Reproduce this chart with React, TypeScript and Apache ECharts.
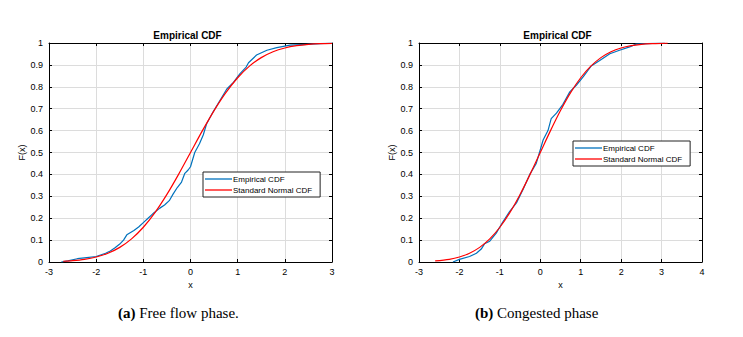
import React, { useEffect, useRef } from "react";
import * as echarts from "echarts";

// Free flow phase (left)
const leftEmpX = [-2.74, -2.6, -2.4, -2.2, -2.0, -1.8, -1.7, -1.6, -1.5, -1.42, -1.35, -1.2, -1.1, -1.0, -0.9, -0.8, -0.65, -0.55, -0.45, -0.37, -0.28, -0.19, -0.12, -0.05, 0.0, 0.09, 0.19, 0.27, 0.34, 0.48, 0.63, 0.77, 0.91, 1.05, 1.18, 1.23, 1.4, 1.62, 1.83, 2.11, 2.47, 2.75, 3.0];
const leftEmpY = [0.0, 0.005, 0.015, 0.02, 0.025, 0.04, 0.05, 0.065, 0.082, 0.1, 0.124, 0.144, 0.16, 0.18, 0.2, 0.22, 0.246, 0.26, 0.28, 0.31, 0.34, 0.365, 0.405, 0.42, 0.435, 0.5, 0.54, 0.58, 0.63, 0.686, 0.74, 0.79, 0.82, 0.86, 0.89, 0.91, 0.945, 0.967, 0.979, 0.99, 0.994, 0.997, 1.0];
const leftNormX = [-2.7, -2.5, -2.25, -2.0, -1.75, -1.5, -1.25, -1.0, -0.75, -0.5, -0.25, 0.0, 0.25, 0.5, 0.75, 1.0, 1.25, 1.5, 1.75, 2.0, 2.25, 2.5, 2.75, 3.0];
const leftNormY = [0.0035, 0.0062, 0.0122, 0.0228, 0.0401, 0.0668, 0.1056, 0.1587, 0.2266, 0.3085, 0.4013, 0.5, 0.5987, 0.6915, 0.7734, 0.8413, 0.8944, 0.9332, 0.9599, 0.9772, 0.9878, 0.9938, 0.997, 0.9987];

// Congested phase (right)
const rightEmpX = [-2.16, -2.0, -1.75, -1.58, -1.46, -1.38, -1.25, -1.09, -0.92, -0.76, -0.59, -0.43, -0.26, -0.1, -0.02, 0.07, 0.19, 0.27, 0.4, 0.56, 0.73, 0.89, 1.06, 1.26, 1.47, 1.72, 1.96, 2.21, 2.37, 2.79, 3.08];
const rightEmpY = [0.0, 0.012, 0.025, 0.04, 0.059, 0.083, 0.095, 0.132, 0.185, 0.23, 0.27, 0.33, 0.4, 0.45, 0.5, 0.557, 0.6, 0.655, 0.68, 0.72, 0.777, 0.807, 0.845, 0.895, 0.92, 0.951, 0.967, 0.982, 0.995, 0.998, 1.0];
const rightNormX = [-2.6, -2.25, -2.0, -1.75, -1.5, -1.25, -1.0, -0.75, -0.5, -0.25, 0.0, 0.25, 0.5, 0.75, 1.0, 1.25, 1.5, 1.75, 2.0, 2.25, 2.5, 2.75, 3.0, 3.15];
const rightNormY = [0.0047, 0.0122, 0.0228, 0.0401, 0.0668, 0.1056, 0.1587, 0.2266, 0.3085, 0.4013, 0.5, 0.5987, 0.6915, 0.7734, 0.8413, 0.8944, 0.9332, 0.9599, 0.9772, 0.9878, 0.9938, 0.997, 0.9987, 0.9992];

const leftXTicks = { min: -3, max: 3 };
const rightXTicks = { min: -3, max: 4 };
const titleText = "Empirical CDF";
const seriesNames = ["Empirical CDF", "Standard Normal CDF"];
const captions = [
  { tag: "(a)", text: " Free flow phase." },
  { tag: "(b)", text: " Congested phase" },
];

const zip = (xs: number[], ys: number[]) => xs.map((x, i) => [x, ys[i]]);

const FONT = "Liberation Sans, Arial, sans-serif";
const BLUE = "#0072BD";
const RED = "#FF0000";

export default function App() {
  const ref = useRef<HTMLDivElement>(null);
  useEffect(() => {
    if (!ref.current) return;
    const chart = echarts.init(ref.current, undefined, { renderer: "svg" });
    const grids = [
      { left: 49, top: 43, width: 283, height: 219 },
      { left: 419, top: 43, width: 283, height: 219 },
    ];
    const xRanges = [leftXTicks, rightXTicks];
    const labelStyle = { fontSize: 9, color: "#000", fontFamily: FONT };
    const xAxis: any[] = [];
    const yAxis: any[] = [];
    grids.forEach((_, gi) => {
      xAxis.push({
        type: "value",
        gridIndex: gi,
        min: xRanges[gi].min,
        max: xRanges[gi].max,
        interval: 1,
        position: "bottom",
        name: "x",
        nameLocation: "middle",
        nameGap: 16,
        nameTextStyle: { fontSize: 9, color: "#000", fontFamily: FONT },
        axisLine: { show: true, onZero: false, lineStyle: { color: "#000", width: 1 } },
        axisTick: { show: true, inside: true, length: 3, lineStyle: { color: "#000" } },
        axisLabel: { ...labelStyle, margin: 5 },
        splitLine: { show: true, lineStyle: { color: "#dcdcdc", width: 1 } },
      });
      xAxis.push({
        type: "value",
        gridIndex: gi,
        min: xRanges[gi].min,
        max: xRanges[gi].max,
        interval: 1,
        position: "top",
        axisLine: { show: true, onZero: false, lineStyle: { color: "#000", width: 1 } },
        axisTick: { show: true, inside: true, length: 3, lineStyle: { color: "#000" } },
        axisLabel: { show: false },
        splitLine: { show: false },
      });
      yAxis.push({
        type: "value",
        gridIndex: gi,
        min: 0,
        max: 1,
        interval: 0.1,
        position: "left",
        name: "F(x)",
        nameLocation: "middle",
        nameGap: 21,
        nameRotate: 90,
        nameTextStyle: { fontSize: 9, color: "#000", fontFamily: FONT },
        axisLine: { show: true, onZero: false, lineStyle: { color: "#000", width: 1 } },
        axisTick: { show: true, inside: true, length: 3, lineStyle: { color: "#000" } },
        axisLabel: {
          ...labelStyle,
          margin: 6,
          formatter: (v: number) => (v === 0 ? "0" : v === 1 ? "1" : v.toFixed(1)),
        },
        splitLine: { show: true, lineStyle: { color: "#dcdcdc", width: 1 } },
      });
      yAxis.push({
        type: "value",
        gridIndex: gi,
        min: 0,
        max: 1,
        interval: 0.1,
        position: "right",
        axisLine: { show: true, onZero: false, lineStyle: { color: "#000", width: 1 } },
        axisTick: { show: true, inside: true, length: 3, lineStyle: { color: "#000" } },
        axisLabel: { show: false },
        splitLine: { show: false },
      });
    });

    const mkSeries = (name: string, color: string, data: number[][], gi: number, smooth: boolean) => ({
      type: "line",
      name,
      xAxisIndex: gi * 2,
      yAxisIndex: gi * 2,
      data,
      symbol: "none",
      smooth: smooth ? 0.3 : false,
      lineStyle: { color, width: 1.2 },
      itemStyle: { color },
      z: name === seriesNames[0] ? 3 : 4,
    });

    const legendBase = {
      orient: "vertical",
      icon: "rect",
      padding: [3, 8, 3, 2],
      itemGap: 3,
      itemWidth: 27,
      itemHeight: 1.3,
      borderColor: "#222",
      borderWidth: 1,
      borderRadius: 0,
      backgroundColor: "#fff",
      textStyle: { fontSize: 8, color: "#000", fontFamily: FONT, padding: [0, 0, 0, -4] },
      data: seriesNames,
    };

    const titleStyle = { fontSize: 10, fontWeight: "bold", color: "#000", fontFamily: FONT };

    chart.setOption({
      animation: false,
      backgroundColor: "#fff",
      title: [
        { text: titleText, left: 187.5, top: 30, padding: 0, textAlign: "center", textStyle: titleStyle },
        { text: titleText, left: 557.5, top: 30, padding: 0, textAlign: "center", textStyle: titleStyle },
      ],
      legend: [
        { ...legendBase, left: 203, top: 172 },
        { ...legendBase, left: 573, top: 141 },
      ],
      grid: grids,
      xAxis,
      yAxis,
      series: [
        mkSeries(seriesNames[0], BLUE, zip(leftEmpX, leftEmpY), 0, false),
        mkSeries(seriesNames[1], RED, zip(leftNormX, leftNormY), 0, true),
        mkSeries(seriesNames[0], BLUE, zip(rightEmpX, rightEmpY), 1, false),
        mkSeries(seriesNames[1], RED, zip(rightNormX, rightNormY), 1, true),
      ],
      graphic: captions.map((c, i) => ({
        type: "text",
        left: i === 0 ? 118 : 475,
        top: 305,
        style: {
          text: `{b|${c.tag}}{n|${c.text}}`,
          rich: {
            b: { fontFamily: "Liberation Serif, Times New Roman, serif", fontSize: 15, fontWeight: "bold", fill: "#000" },
            n: { fontFamily: "Liberation Serif, Times New Roman, serif", fontSize: 15, fill: "#000" },
          },
        },
      })),
    });
    return () => chart.dispose();
  }, []);
  return (
    <div
      ref={ref}
      style={{ position: "fixed", left: 0, top: 0, width: 743, height: 337 }}
    />
  );
}
